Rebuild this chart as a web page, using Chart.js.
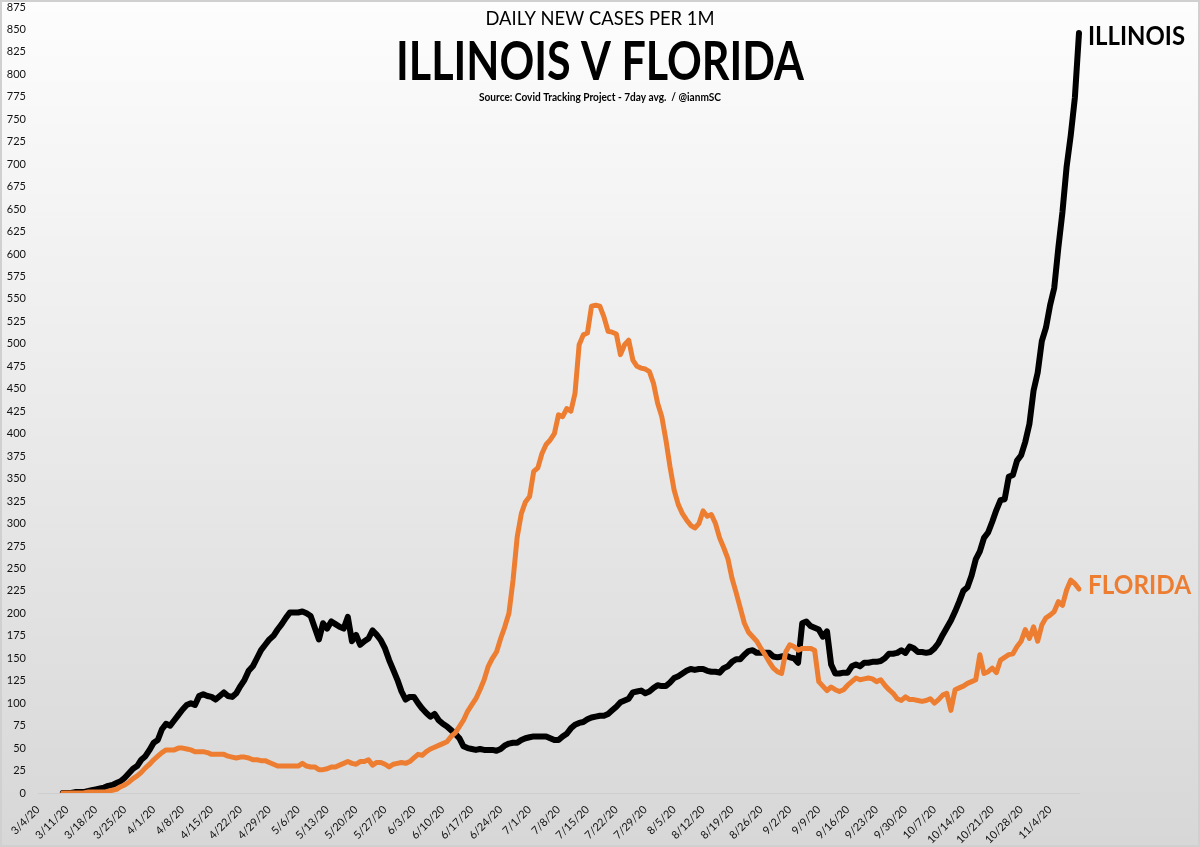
<!DOCTYPE html>
<html lang="en">

<head>
    <meta charset="UTF-8">
    <title>Illinois v Florida - daily new cases per 1M</title>
    <script src="https://cdn.jsdelivr.net/npm/chart.js"></script>
    <style>
        body { margin: 0; background: #fff; }
        #wrap { width: 1200px; height: 847px; }
    </style>
</head>

<body>
    <div id="wrap">
        <canvas id="casesChart" width="1200" height="847"></canvas>
    </div>
    <script>

        // tick labels, one per week
        const weekLabels = [
            "3/4/20", "3/11/20", "3/18/20", "3/25/20", "4/1/20", "4/8/20", "4/15/20", "4/22/20", "4/29/20",
            "5/6/20", "5/13/20", "5/20/20", "5/27/20", "6/3/20", "6/10/20", "6/17/20", "6/24/20", "7/1/20",
            "7/8/20", "7/15/20", "7/22/20", "7/29/20", "8/5/20", "8/12/20", "8/19/20", "8/26/20", "9/2/20",
            "9/9/20", "9/16/20", "9/23/20", "9/30/20", "10/7/20", "10/14/20", "10/21/20", "10/28/20", "11/4/20"
        ]

        // 7 day avg, new cases per 1M, one row per week starting 3/4/20
        const illinois = [
            null, null, null, null, null, null, 0,
            0, 0, 1, 1, 1, 2, 3,
            4, 5, 6, 8, 9, 11, 13,
            17, 22, 27, 30, 37, 41, 48,
            56, 59, 71, 77, 75, 81, 87,
            93, 98, 100, 98, 108, 110, 108,
            107, 104, 108, 112, 108, 107, 111,
            119, 126, 136, 141, 150, 159, 165,
            171, 175, 182, 188, 195, 201, 201,
            201, 202, 200, 197, 184, 171, 189,
            183, 191, 188, 185, 183, 196, 169,
            176, 165, 169, 172, 181, 176, 170,
            161, 148, 137, 126, 113, 104, 107,
            107, 100, 94, 89, 85, 88, 81,
            77, 74, 70, 66, 61, 52, 50,
            49, 48, 49, 48, 48, 48, 47,
            49, 53, 55, 56, 56, 59, 61,
            62, 63, 63, 63, 63, 61, 59,
            59, 63, 66, 72, 76, 78, 79,
            82, 84, 85, 86, 86, 88, 92,
            96, 101, 103, 105, 112, 113, 114,
            111, 113, 117, 120, 119, 119, 123,
            128, 130, 133, 136, 138, 137, 138,
            138, 136, 135, 135, 134, 139, 141,
            146, 149, 149, 154, 158, 159, 156,
            156, 156, 156, 152, 151, 152, 153,
            151, 150, 145, 189, 191, 186, 184,
            182, 174, 180, 143, 133, 133, 134,
            134, 141, 143, 141, 145, 145, 146,
            146, 147, 150, 155, 155, 156, 159,
            156, 163, 161, 157, 157, 156, 157,
            161, 167, 176, 184, 192, 202, 213,
            225, 229, 242, 260, 269, 284, 290,
            302, 315, 326, 327, 352, 354, 370,
            376, 391, 411, 448, 468, 503, 518,
            543, 562, 607, 647, 697, 732, 774,
            846
        ]
        const florida = [
            null, null, null, null, null, null, 0,
            0, 0, 0, 0, 0, 1, 1,
            1, 1, 1, 2, 3, 4, 7,
            9, 12, 16, 19, 23, 28, 32,
            37, 41, 45, 48, 48, 48, 50,
            50, 49, 48, 46, 46, 46, 45,
            43, 43, 43, 43, 41, 40, 39,
            40, 40, 39, 37, 37, 36, 36,
            34, 32, 30, 30, 30, 30, 30,
            30, 33, 30, 29, 29, 26, 26,
            27, 29, 29, 31, 33, 35, 33,
            32, 35, 35, 37, 31, 34, 34,
            32, 29, 32, 33, 34, 33, 35,
            39, 43, 42, 46, 49, 51, 53,
            55, 57, 63, 67, 74, 81, 91,
            98, 105, 115, 126, 141, 150, 157,
            172, 185, 200, 237, 285, 311, 324,
            330, 358, 362, 378, 388, 393, 400,
            421, 419, 428, 425, 445, 499, 510,
            512, 542, 543, 542, 530, 514, 513,
            511, 488, 499, 504, 482, 475, 473,
            472, 469, 456, 434, 419, 393, 363,
            337, 321, 311, 304, 298, 295, 300,
            314, 308, 310, 300, 284, 273, 261,
            239, 223, 206, 189, 179, 174, 169,
            161, 154, 146, 139, 135, 133, 157,
            165, 163, 159, 161, 161, 161, 159,
            124, 119, 114, 118, 115, 113, 115,
            120, 124, 128, 126, 127, 128, 127,
            124, 126, 120, 115, 111, 105, 103,
            107, 104, 104, 103, 102, 103, 105,
            100, 104, 109, 111, 92, 115, 117,
            119, 122, 124, 126, 154, 133, 135,
            139, 134, 148, 151, 154, 155, 163,
            169, 182, 172, 185, 169, 187, 195,
            198, 202, 213, 209, 226, 237, 233,
            227
        ]

        // one category per day from 3/4/20
        const days = []
        for (let i = 0; i < illinois.length; i++) {
            const d = new Date(2020, 2, 4 + i)
            days.push((d.getMonth() + 1) + "/" + d.getDate() + "/20")
        }

        const family = 'Lato, "Open Sans", sans-serif'
        const orange = "#ed7d31"

        // original uses Calibri which is narrower, so squeeze text to the width it had
        function fitText(ctx, text, font, width, x, y, align) {
            ctx.save()
            ctx.font = font
            const k = width / ctx.measureText(text).width
            ctx.translate(x, y)
            ctx.scale(k, 1)
            ctx.textAlign = align
            ctx.fillText(text, 0, 0)
            ctx.restore()
        }

        const backdrop = {
            id: "backdrop",
            beforeDraw(chart) {
                const ctx = chart.ctx
                const g = ctx.createLinearGradient(0, 0, 0, chart.height)
                g.addColorStop(0, "#fdfdfd")
                g.addColorStop(1, "#d7d7d7")
                ctx.save()
                ctx.fillStyle = g
                ctx.fillRect(0, 0, chart.width, chart.height)
                ctx.strokeStyle = "#d0d0d0"
                ctx.lineWidth = 2
                ctx.strokeRect(1, 1, chart.width - 2, chart.height - 2)
                ctx.restore()
            }
        }

        const headings = {
            id: "headings",
            afterDraw(chart) {
                const ctx = chart.ctx
                ctx.save()
                ctx.fillStyle = "#000"
                ctx.textBaseline = "alphabetic"
                fitText(ctx, "DAILY NEW CASES PER 1M", "400 20px " + family, 229, 600, 25, "center")
                fitText(ctx, "ILLINOIS V FLORIDA", "700 53px " + family, 408, 600, 80, "center")
                fitText(ctx, "Source: Covid Tracking Project - 7day avg.  / @ianmSC", "700 12px " + family, 242, 600, 101, "center")

                // series names next to the last point of each line
                const ends = [
                    { index: 0, text: "ILLINOIS", color: "#000", width: 97, dy: 4 },
                    { index: 1, text: "FLORIDA", color: orange, width: 103, dy: -3 }
                ]
                ctx.textBaseline = "middle"
                for (const e of ends) {
                    const pts = chart.getDatasetMeta(e.index).data
                    const last = pts[pts.length - 1]
                    ctx.fillStyle = e.color
                    fitText(ctx, e.text, "700 26px " + family, e.width, last.x + 9, last.y + e.dy, "left")
                }
                ctx.restore()
            }
        }

        new Chart(document.getElementById("casesChart"), {
            type: "line",
            data: {
                labels: days,
                datasets: [{
                    label: "ILLINOIS",
                    data: illinois,
                    borderColor: "#000",
                    borderWidth: 6,
                    order: 1
                }, {
                    label: "FLORIDA",
                    data: florida,
                    borderColor: orange,
                    borderWidth: 5,
                    order: 0
                }]
            },
            options: {
                responsive: false,
                animation: false,
                layout: { padding: { left: 0, right: 121, top: 0, bottom: 0 } },
                elements: {
                    point: { radius: 0 },
                    line: { tension: 0, borderJoinStyle: "round", borderCapStyle: "round" }
                },
                plugins: {
                    legend: { display: false },
                    tooltip: { enabled: false }
                },
                scales: {
                    x: {
                        grid: { display: false, drawTicks: false },
                        border: { color: "#cecece" },
                        ticks: {
                            autoSkip: false,
                            minRotation: 45,
                            maxRotation: 45,
                            padding: 10,
                            color: "#111",
                            font: { family: family, size: 11 },
                            callback: (v, i) => i % 7 === 0 ? weekLabels[i / 7] : null
                        },
                        afterFit: s => { s.height = 54 }
                    },
                    y: {
                        min: 0,
                        max: 875,
                        grid: { display: false, drawTicks: false },
                        border: { display: false },
                        ticks: {
                            stepSize: 25,
                            padding: 12,
                            color: "#111",
                            font: { family: family, size: 11 }
                        },
                        afterFit: s => {
                            s.width = 38
                            s.paddingTop = 7
                        }
                    }
                }
            },
            plugins: [backdrop, headings]
        })

    </script>
</body>

</html>
